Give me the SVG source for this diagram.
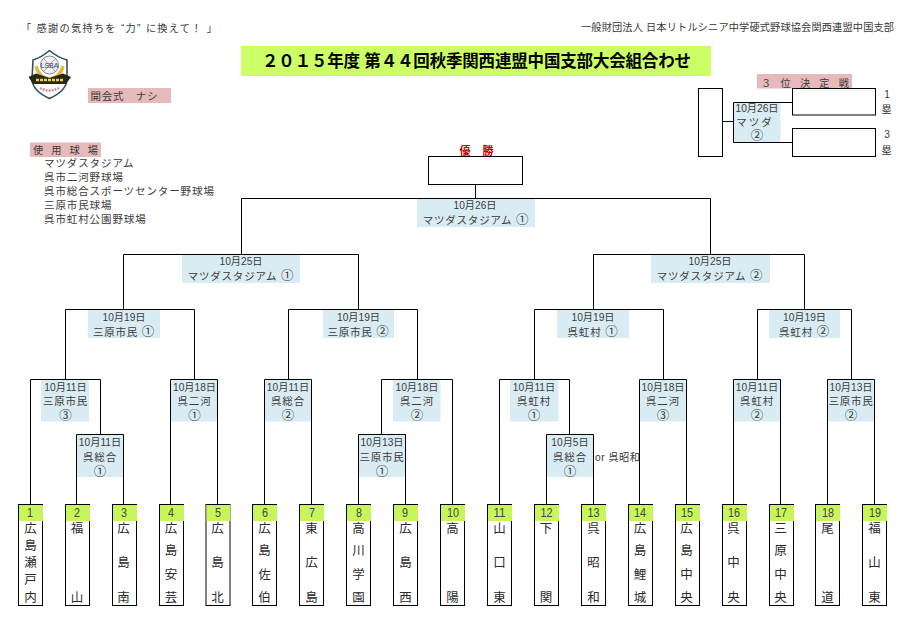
<svg xmlns="http://www.w3.org/2000/svg" width="912" height="629" viewBox="0 0 912 629">
<style>
text{font-family:"Liberation Sans","Noto Sans CJK JP",sans-serif;font-size:10.200px;fill:#3a3a3a;text-anchor:middle}
.l{text-anchor:start}
.v{font-size:10.500px;letter-spacing:.8px}
.w{font-size:10.500px;letter-spacing:.9px}
.c{font-size:12.500px}
.tm{font-family:"Noto Sans CJK JP",sans-serif;font-size:12.500px;fill:#2a2a2a}
.num{font-size:13px;fill:#444}
.bg{fill:#daecf3}
.pk{fill:#e6b9bb}
.gr{fill:#c8f55c}
.box{fill:#fff;stroke:#000;stroke-width:1}
.ln{fill:none;stroke:#000;stroke-width:1}
</style>
<rect width="912" height="629" fill="#fff"/>
<g id="header">
<text class="l" x="21" y="31.500" textLength="196">「 感謝の気持ちを “力” に換えて！ 」</text>
<text class="l" x="581" y="31" textLength="313">一般財団法人 日本リトルシニア中学硬式野球協会関西連盟中国支部</text>
<rect x="241" y="46" width="470" height="30" fill="#ccff66"/>
<text class="l" x="262" y="66.500" textLength="429" style="font-size:16.500px;font-weight:700;fill:#000">２０１５年度 第４４回秋季関西連盟中国支部大会組合わせ</text>
</g>
<g id="logo">
<path d="M33 60Q42 57 49.500 50.500Q57 57 67 60L67 80Q66 91 49.500 98.500Q33 91 32 80Z" fill="#fff" stroke="#2f5068" stroke-width="1.600"/>
<circle cx="49.500" cy="65" r="9" fill="#eef1f5" stroke="#5d6f7d" stroke-width="0.800"/>
<path d="M43 58L56 72M56 58L43 72" stroke="#d66a6a" stroke-width="0.800" fill="none"/>
<text x="49.500" y="68" style="font-size:7px;fill:#27465e">LSBA</text>
<path d="M36 66Q39 78 49.500 79Q60 78 63 66" fill="none" stroke="#e8b93c" stroke-width="3.500"/>
<path d="M28.500 77L36 73.500L49.500 78L63 73.500L71 77L66 84L49.500 84L33 84Z" fill="#2a2812"/>
<path d="M36 80L63 80" stroke="#e8cf55" stroke-width="2.400" stroke-dasharray="3 1"/>
<path d="M40 88Q49 93 59 88" fill="none" stroke="#d88d8d" stroke-width="2.500" stroke-dasharray="2 1"/>
</g>
<g id="opening">
<rect class="pk" x="88" y="88" width="83" height="15"/>
<text class="l v" x="90.500" y="99.500">開会式　ナシ</text>
</g>
<g id="venues">
<rect class="pk" x="30" y="142.500" width="71" height="14.500"/>
<text class="l" x="33" y="153.500" textLength="65">使 用 球 場</text>
<text class="l w" style="letter-spacing:.9px" x="44" y="167">マツダスタジアム</text>
<text class="l w" x="44" y="181">呉市二河野球場</text>
<text class="l w" x="44" y="195">呉市総合スポーツセンター野球場</text>
<text class="l w" x="44" y="209">三原市民球場</text>
<text class="l w" x="44" y="223">呉市虹村公園野球場</text>
</g>
<g id="third-place">
<rect class="pk" x="757" y="74" width="95" height="14.500"/>
<text class="l" x="761" y="86.500" textLength="88">３ 位 決 定 戦</text>
<rect class="box" x="698.500" y="88.500" width="24" height="68"/>
<rect class="box" x="792.500" y="88.500" width="83" height="26.500"/>
<rect class="box" x="792.500" y="128.500" width="83" height="28"/>
<rect class="bg" x="733.500" y="102.500" width="47" height="40"/>
<text x="757" y="112">10月26日</text>
<text class="v" style="letter-spacing:2px" x="755" y="126">マツダ</text>
<text class="c" x="757" y="140">②</text>
<text x="887" y="98">1</text>
<text x="886.500" y="113">塁</text>
<text x="887" y="138">3</text>
<text x="886.500" y="154">塁</text>
</g>
<g id="champion">
<text x="465" y="155" style="font-size:11px;font-weight:700;fill:#c00000">優</text>
<text x="488" y="155" style="font-size:11px;font-weight:700;fill:#c00000">勝</text>
<rect class="box" x="428.500" y="156.500" width="94" height="28"/>
</g>
<g id="final"><rect class="bg" x="417" y="198.500" width="118" height="28.500"/><text x="475" y="209">10月26日</text><text class="v" x="476" y="223.500">マツダスタジアム <tspan class="c">①</tspan></text></g>
<g id="sf1"><rect class="bg" x="182" y="254.500" width="118" height="28.500"/><text x="241" y="265">10月25日</text><text class="v" x="241" y="279.500">マツダスタジアム <tspan class="c">①</tspan></text></g>
<g id="sf2"><rect class="bg" x="651" y="254.500" width="119" height="28.500"/><text x="710" y="265">10月25日</text><text class="v" x="710" y="279.500">マツダスタジアム <tspan class="c">②</tspan></text></g>
<g id="qf1"><rect class="bg" x="88" y="310" width="72" height="28"/><text x="124" y="320.500">10月19日</text><text class="v" x="124" y="335.500">三原市民 <tspan class="c">①</tspan></text></g>
<g id="qf2"><rect class="bg" x="323" y="310" width="71" height="28"/><text x="358.500" y="320.500">10月19日</text><text class="v" x="358.500" y="335.500">三原市民 <tspan class="c">②</tspan></text></g>
<g id="qf3"><rect class="bg" x="557" y="310" width="72" height="28"/><text x="593" y="320.500">10月19日</text><text class="v" x="593" y="335.500">呉虹村 <tspan class="c">①</tspan></text></g>
<g id="qf4"><rect class="bg" x="769" y="310" width="71" height="28"/><text x="804.500" y="320.500">10月19日</text><text class="v" x="804.500" y="335.500">呉虹村 <tspan class="c">②</tspan></text></g>
<g id="r1a"><rect class="bg" x="41" y="379.500" width="48" height="42"/><text x="65.500" y="390.500">10月11日</text><text class="v" x="65.500" y="405">三原市民</text><text class="c" x="65.500" y="420">③</text></g>
<g id="r1b"><rect class="bg" x="76.500" y="434.500" width="47.500" height="42.500"/><text x="100" y="445.500">10月11日</text><text class="v" x="100" y="460.500">呉総合</text><text class="c" x="100" y="475.500">①</text></g>
<g id="r1c"><rect class="bg" x="171" y="379.500" width="47" height="42"/><text x="194.500" y="390.500">10月18日</text><text class="v" x="194.500" y="405">呉二河</text><text class="c" x="194.500" y="420">①</text></g>
<g id="r1d"><rect class="bg" x="265" y="379.500" width="47" height="42"/><text x="288" y="390.500">10月11日</text><text class="v" x="288" y="405">呉総合</text><text class="c" x="288" y="420">②</text></g>
<g id="r1e"><rect class="bg" x="393" y="379.500" width="47.500" height="42"/><text x="417" y="390.500">10月18日</text><text class="v" x="417" y="405">呉二河</text><text class="c" x="417" y="420">②</text></g>
<g id="r1f"><rect class="bg" x="358.500" y="434.500" width="47" height="42.500"/><text x="382" y="445.500">10月13日</text><text class="v" x="382" y="460.500">三原市民</text><text class="c" x="382" y="475.500">①</text></g>
<g id="r1g"><rect class="bg" x="510" y="379.500" width="48.500" height="42"/><text x="534" y="390.500">10月11日</text><text class="v" x="534" y="405">呉虹村</text><text class="c" x="534" y="420">①</text></g>
<g id="r1h"><rect class="bg" x="546.500" y="434.500" width="47" height="42.500"/><text x="570" y="445.500">10月5日</text><text class="v" x="570" y="460.500">呉総合</text><text class="c" x="570" y="475.500">①</text></g>
<g id="r1i"><rect class="bg" x="640" y="379.500" width="47" height="42"/><text x="663" y="390.500">10月18日</text><text class="v" x="663" y="405">呉二河</text><text class="c" x="663" y="420">③</text></g>
<g id="r1j"><rect class="bg" x="734" y="379.500" width="47" height="42"/><text x="757" y="390.500">10月11日</text><text class="v" x="757" y="405">呉虹村</text><text class="c" x="757" y="420">②</text></g>
<g id="r1k"><rect class="bg" x="828" y="379.500" width="47" height="42"/><text x="851" y="390.500">10月13日</text><text class="v" x="851" y="405">三原市民</text><text class="c" x="851" y="420">②</text></g>
<text class="l" x="595" y="460.500" textLength="45">or 呉昭和</text>
<g id="team1"><rect class="box" x="18.500" y="504.500" width="24" height="101"/><rect class="gr" x="19" y="505" width="24" height="16"/><text class="num" x="30" y="516.500" textLength="6" lengthAdjust="spacingAndGlyphs">1</text><text class="tm"><tspan x="30.500" y="532.500">広</tspan><tspan x="30.500" y="550">島</tspan><tspan x="30.500" y="567">瀬</tspan><tspan x="30.500" y="584">戸</tspan><tspan x="30.500" y="601.500">内</tspan></text></g>
<g id="team2"><rect class="box" x="65.500" y="504.500" width="24" height="101"/><rect class="gr" x="66" y="505" width="24" height="16"/><text class="num" x="77" y="516.500" textLength="6" lengthAdjust="spacingAndGlyphs">2</text><text class="tm"><tspan x="77" y="532.500">福</tspan><tspan x="77" y="601.500">山</tspan></text></g>
<g id="team3"><rect class="box" x="112.500" y="504.500" width="24" height="101"/><rect class="gr" x="113" y="505" width="24" height="16"/><text class="num" x="124" y="516.500" textLength="6" lengthAdjust="spacingAndGlyphs">3</text><text class="tm"><tspan x="123.500" y="532.500">広</tspan><tspan x="123.500" y="567">島</tspan><tspan x="123.500" y="601.500">南</tspan></text></g>
<g id="team4"><rect class="box" x="159.500" y="504.500" width="24" height="101"/><rect class="gr" x="160" y="505" width="24" height="16"/><text class="num" x="171" y="516.500" textLength="6" lengthAdjust="spacingAndGlyphs">4</text><text class="tm"><tspan x="171" y="532.500">広</tspan><tspan x="171" y="555">島</tspan><tspan x="171" y="579">安</tspan><tspan x="171" y="601.500">芸</tspan></text></g>
<g id="team5"><rect class="box" x="206" y="504.500" width="24" height="101"/><rect class="gr" x="206.500" y="505" width="24" height="16"/><text class="num" x="218" y="516.500" textLength="6" lengthAdjust="spacingAndGlyphs">5</text><text class="tm"><tspan x="217.500" y="532.500">広</tspan><tspan x="217.500" y="567">島</tspan><tspan x="217.500" y="601.500">北</tspan></text></g>
<g id="team6"><rect class="box" x="252.500" y="504.500" width="24" height="101"/><rect class="gr" x="253" y="505" width="24" height="16"/><text class="num" x="265" y="516.500" textLength="6" lengthAdjust="spacingAndGlyphs">6</text><text class="tm"><tspan x="264.500" y="532.500">広</tspan><tspan x="264.500" y="555">島</tspan><tspan x="264.500" y="579">佐</tspan><tspan x="264.500" y="601.500">伯</tspan></text></g>
<g id="team7"><rect class="box" x="299.500" y="504.500" width="24" height="101"/><rect class="gr" x="300" y="505" width="24" height="16"/><text class="num" x="312" y="516.500" textLength="6" lengthAdjust="spacingAndGlyphs">7</text><text class="tm"><tspan x="311.500" y="532.500">東</tspan><tspan x="311.500" y="567">広</tspan><tspan x="311.500" y="601.500">島</tspan></text></g>
<g id="team8"><rect class="box" x="346.500" y="504.500" width="24" height="101"/><rect class="gr" x="347" y="505" width="24" height="16"/><text class="num" x="359" y="516.500" textLength="6" lengthAdjust="spacingAndGlyphs">8</text><text class="tm"><tspan x="358.500" y="532.500">高</tspan><tspan x="358.500" y="555">川</tspan><tspan x="358.500" y="579">学</tspan><tspan x="358.500" y="601.500">園</tspan></text></g>
<g id="team9"><rect class="box" x="393.500" y="504.500" width="24" height="101"/><rect class="gr" x="394" y="505" width="24" height="16"/><text class="num" x="405" y="516.500" textLength="6" lengthAdjust="spacingAndGlyphs">9</text><text class="tm"><tspan x="405.500" y="532.500">広</tspan><tspan x="405.500" y="567">島</tspan><tspan x="405.500" y="601.500">西</tspan></text></g>
<g id="team10"><rect class="box" x="440.500" y="504.500" width="24" height="101"/><rect class="gr" x="441" y="505" width="24" height="16"/><text class="num" x="453" y="516.500" textLength="12" lengthAdjust="spacingAndGlyphs">10</text><text class="tm"><tspan x="452.500" y="532.500">高</tspan><tspan x="452.500" y="601.500">陽</tspan></text></g>
<g id="team11"><rect class="box" x="487.500" y="504.500" width="24" height="101"/><rect class="gr" x="488" y="505" width="24" height="16"/><text class="num" x="499.500" y="516.500" textLength="12" lengthAdjust="spacingAndGlyphs">11</text><text class="tm"><tspan x="499.500" y="532.500">山</tspan><tspan x="499.500" y="567">口</tspan><tspan x="499.500" y="601.500">東</tspan></text></g>
<g id="team12"><rect class="box" x="534.500" y="504.500" width="24" height="101"/><rect class="gr" x="535" y="505" width="24" height="16"/><text class="num" x="546.500" y="516.500" textLength="12" lengthAdjust="spacingAndGlyphs">12</text><text class="tm"><tspan x="546" y="532.500">下</tspan><tspan x="546" y="601.500">関</tspan></text></g>
<g id="team13"><rect class="box" x="581.500" y="504.500" width="24" height="101"/><rect class="gr" x="582" y="505" width="24" height="16"/><text class="num" x="593.500" y="516.500" textLength="12" lengthAdjust="spacingAndGlyphs">13</text><text class="tm"><tspan x="593.500" y="532.500">呉</tspan><tspan x="593.500" y="567">昭</tspan><tspan x="593.500" y="601.500">和</tspan></text></g>
<g id="team14"><rect class="box" x="628.500" y="504.500" width="24" height="101"/><rect class="gr" x="629" y="505" width="24" height="16"/><text class="num" x="640" y="516.500" textLength="12" lengthAdjust="spacingAndGlyphs">14</text><text class="tm"><tspan x="640" y="532.500">広</tspan><tspan x="640" y="555">島</tspan><tspan x="640" y="579">鯉</tspan><tspan x="640" y="601.500">城</tspan></text></g>
<g id="team15"><rect class="box" x="675.500" y="504.500" width="24" height="101"/><rect class="gr" x="676" y="505" width="24" height="16"/><text class="num" x="687" y="516.500" textLength="12" lengthAdjust="spacingAndGlyphs">15</text><text class="tm"><tspan x="686.500" y="532.500">広</tspan><tspan x="686.500" y="555">島</tspan><tspan x="686.500" y="579">中</tspan><tspan x="686.500" y="601.500">央</tspan></text></g>
<g id="team16"><rect class="box" x="722.500" y="504.500" width="24" height="101"/><rect class="gr" x="723" y="505" width="24" height="16"/><text class="num" x="734" y="516.500" textLength="12" lengthAdjust="spacingAndGlyphs">16</text><text class="tm"><tspan x="733.500" y="532.500">呉</tspan><tspan x="733.500" y="567">中</tspan><tspan x="733.500" y="601.500">央</tspan></text></g>
<g id="team17"><rect class="box" x="769.500" y="504.500" width="24" height="101"/><rect class="gr" x="770" y="505" width="24" height="16"/><text class="num" x="781" y="516.500" textLength="12" lengthAdjust="spacingAndGlyphs">17</text><text class="tm"><tspan x="780.500" y="532.500">三</tspan><tspan x="780.500" y="555">原</tspan><tspan x="780.500" y="579">中</tspan><tspan x="780.500" y="601.500">央</tspan></text></g>
<g id="team18"><rect class="box" x="815.500" y="504.500" width="24" height="101"/><rect class="gr" x="816" y="505" width="24" height="16"/><text class="num" x="828" y="516.500" textLength="12" lengthAdjust="spacingAndGlyphs">18</text><text class="tm"><tspan x="827.500" y="532.500">尾</tspan><tspan x="827.500" y="601.500">道</tspan></text></g>
<g id="team19"><rect class="box" x="862.500" y="504.500" width="24" height="101"/><rect class="gr" x="863" y="505" width="24" height="16"/><text class="num" x="875" y="516.500" textLength="12" lengthAdjust="spacingAndGlyphs">19</text><text class="tm"><tspan x="874.500" y="532.500">福</tspan><tspan x="874.500" y="567">山</tspan><tspan x="874.500" y="601.500">東</tspan></text></g>
<g id="connectors" class="ln">
<path d="M30.500 504V379.500H100.500V434.500M76.500 504V434.500H123.500V504M170.500 504V379.500H217.500V504M264.500 504V379.500H311.500V504"/>
<path d="M358.500 504V434.500H405.500V504M381.500 434.500V379.500H452.500V504M499.500 504V379.500H569.500V434.500M546.500 504V434.500H593.500V504"/>
<path d="M639.500 504V379.500H686.500V504M733.500 504V379.500H780.500V504M827.500 504V379.500H874.500V504"/>
<path d="M65.500 379.500V309.500H194.500V379.500M288.500 379.500V309.500H417.500V379.500M534.500 379.500V309.500H663.500V379.500M757.500 379.500V309.500H851.500V379.500"/>
<path d="M123.500 309.500V254.500H358.500V309.500M593.500 309.500V254.500H804.500V309.500"/>
<path d="M241.500 254.500V198.500H710.500V254.500M475.500 198.500V184.500"/>
<path d="M722.500 121.500H733.500M793 102.500H733.500V142.500H793"/>
</g>
</svg>
